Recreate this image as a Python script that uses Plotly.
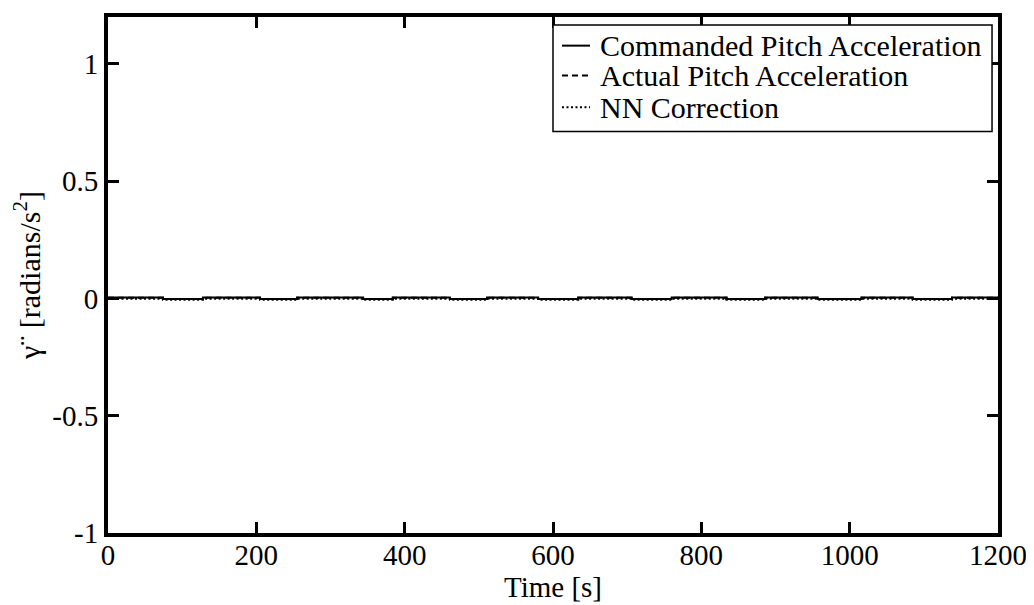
import plotly.graph_objects as go

# Data (values are tiny around zero)
time_steps = [0, 74, 128, 205, 255, 344, 384, 461, 511, 580, 634, 706, 760, 834, 886, 957, 1016, 1085, 1138, 1200]
commanded = [0.004, -0.002, 0.004, -0.002, 0.004, -0.002, 0.004, -0.002, 0.004, -0.002,
             0.004, -0.002, 0.004, -0.002, 0.004, -0.002, 0.004, -0.002, 0.004, 0.004]
actual = [0.003, -0.002, 0.003, -0.002, 0.003, -0.002, 0.003, -0.002, 0.003, -0.002,
          0.003, -0.002, 0.003, -0.002, 0.003, -0.002, 0.003, -0.002, 0.003, 0.003]
nn_correction = [-0.001, -0.005, -0.001, -0.005, -0.001, -0.005, -0.001, -0.005, -0.001, -0.005,
                 -0.001, -0.005, -0.001, -0.005, -0.001, -0.005, -0.001, -0.005, -0.001, -0.001]

series_names = ["Commanded Pitch Acceleration", "Actual Pitch Acceleration", "NN Correction"]
series_dash = ["solid", "6px,4px", "2px,2.5px"]

x_ticks = [0, 200, 400, 600, 800, 1000, 1200]
y_ticks = [-1, -0.5, 0, 0.5, 1]
y_tick_text = ["-1", "-0.5", "0", "0.5", "1"]

FONT = "Liberation Serif, Times New Roman, serif"

fig = go.Figure()
for name, ys, dash in zip(series_names, [commanded, actual, nn_correction], series_dash):
    fig.add_trace(go.Scatter(x=time_steps, y=ys, mode="lines", line_shape="hv",
                             name=name, showlegend=False,
                             line=dict(color="black", width=2, dash=dash)))

# Legend drawn as a boxed key (paper coordinates)
box_x0, box_x1, box_y0, box_y1 = 0.5, 0.9933, 0.778, 0.9846
row_y = [0.9445, 0.8868, 0.8252]
shapes = [dict(type="rect", xref="paper", yref="paper", x0=box_x0, x1=box_x1, y0=box_y0, y1=box_y1,
               line=dict(color="black", width=1.5), fillcolor="white", layer="above")]
annotations = []
for name, dash, yy in zip(series_names, series_dash, row_y):
    shapes.append(dict(type="line", xref="paper", yref="paper", x0=0.5101, x1=0.5416, y0=yy, y1=yy,
                       line=dict(color="black", width=2, dash=dash), layer="above"))
    annotations.append(dict(xref="paper", yref="paper", x=0.5506, y=yy, xanchor="left", yanchor="middle",
                            text=name, showarrow=False,
                            font=dict(family=FONT, size=30, color="black")))

fig.update_layout(
    width=1026, height=597,
    margin=dict(l=100, r=36, t=5, b=72),
    paper_bgcolor="white", plot_bgcolor="white",
    font=dict(family=FONT, size=29, color="black"),
    showlegend=False,
    shapes=shapes, annotations=annotations,
)
fig.update_xaxes(
    range=[0, 1200], tickvals=x_ticks, ticktext=[str(v) for v in x_ticks],
    showline=True, linecolor="black", linewidth=4, mirror="ticks",
    ticks="inside", ticklen=11, tickwidth=3, tickcolor="black",
    showgrid=False, zeroline=False, ticklabelstandoff=-7,
    title=dict(text="Time [s]", font=dict(family=FONT, size=29), standoff=2),
    tickfont=dict(family=FONT, size=29),
)
fig.update_yaxes(
    range=[-1, 1.2], tickvals=y_ticks, ticktext=y_tick_text,
    showline=True, linecolor="black", linewidth=4, mirror="ticks",
    ticks="inside", ticklen=11, tickwidth=3, tickcolor="black",
    showgrid=False, zeroline=False,
    title=dict(text="γ¨ [radians/s<sup>2</sup>]", font=dict(family=FONT, size=30), standoff=6),
    tickfont=dict(family=FONT, size=29),
)

fig.write_html("out.html")
